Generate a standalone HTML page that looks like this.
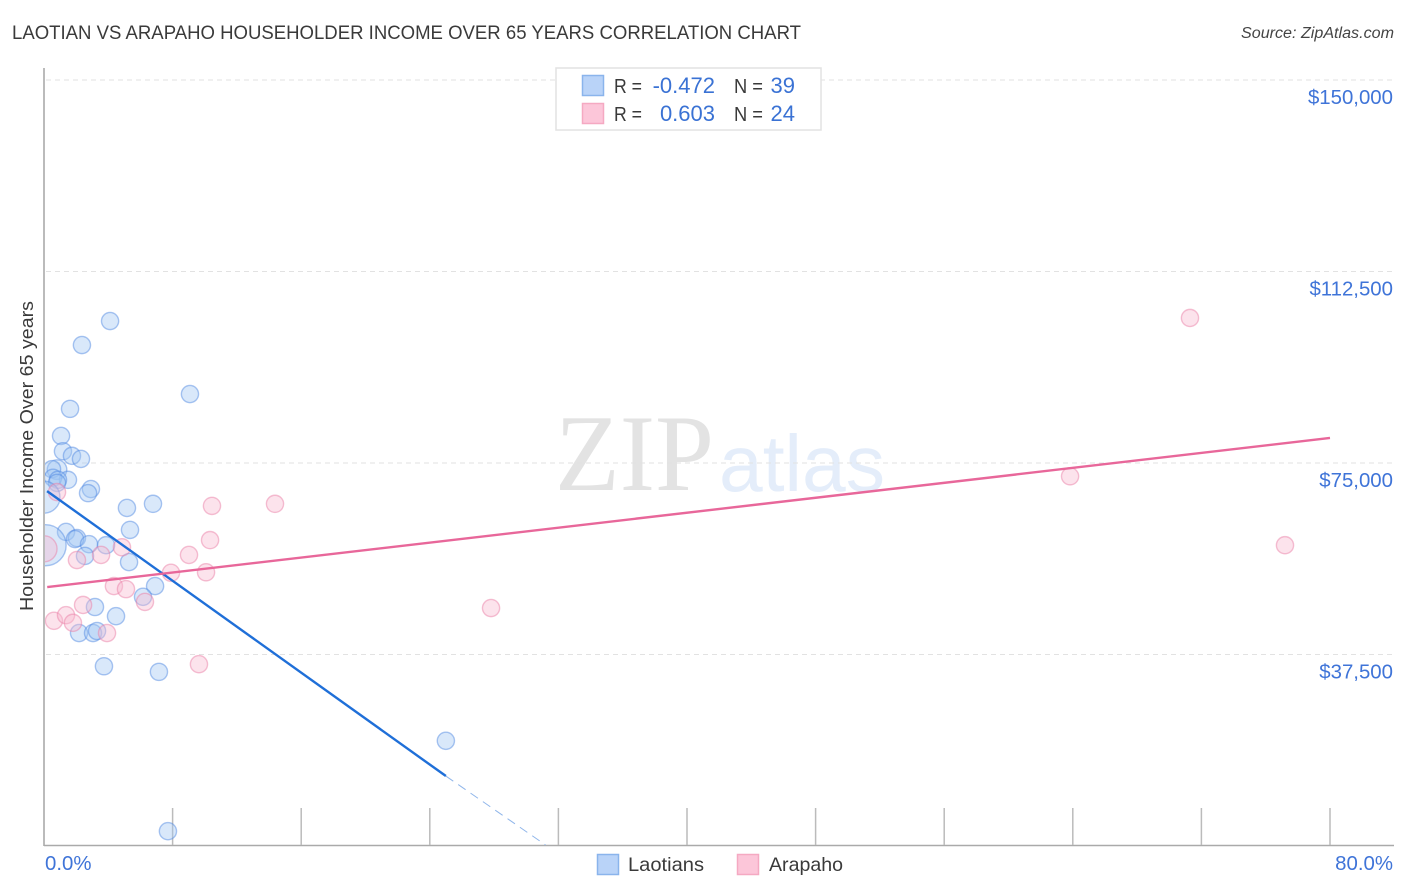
<!DOCTYPE html>
<html lang="en">
<head>
<meta charset="utf-8">
<title>Laotian vs Arapaho Householder Income Over 65 Years Correlation Chart</title>
<style>
html,body{margin:0;padding:0;background:#fff;width:1406px;height:892px;overflow:hidden}
svg{display:block;font-family:"Liberation Sans",sans-serif}
</style>
</head>
<body>
<svg id="chart" width="1406" height="892" viewBox="0 0 1406 892" xmlns="http://www.w3.org/2000/svg">
  <defs><clipPath id="plot-clip"><rect x="45" y="60" width="1349" height="785"/></clipPath></defs>
  <text x="12" y="39" font-size="19.5" fill="#3a3a3a" textLength="789" lengthAdjust="spacingAndGlyphs">LAOTIAN VS ARAPAHO HOUSEHOLDER INCOME OVER 65 YEARS CORRELATION CHART</text>
  <text x="1394" y="38" font-size="15.5" font-style="italic" fill="#444" text-anchor="end" textLength="153" lengthAdjust="spacingAndGlyphs">Source: ZipAtlas.com</text>
  <text x="555" y="490" font-family="'Liberation Serif',serif" font-size="109" fill="#e3e3e3" textLength="159" lengthAdjust="spacingAndGlyphs">ZIP</text>
  <text x="719" y="491" font-size="80" fill="#e4edfa" textLength="166" lengthAdjust="spacingAndGlyphs">atlas</text>
  <g id="grid"></g>
  <g id="axes"></g>
  <g id="marks" clip-path="url(#plot-clip)"></g>
  <g id="trends"></g>
  <text transform="translate(33,456) rotate(-90)" font-size="18.5" fill="#3a3a3a" text-anchor="middle" textLength="310" lengthAdjust="spacingAndGlyphs">Householder Income Over 65 years</text>
  <g>
    <rect x="556" y="68" width="265" height="62" fill="#fff" stroke="#e2e2e2" stroke-width="1.5"/>
    <rect x="582.5" y="75.5" width="21" height="20" fill="#b9d3f8" stroke="#8ab4ec" stroke-width="1.5"/>
    <rect x="582.5" y="103.5" width="21" height="20" fill="#fcc6d9" stroke="#f5a9c2" stroke-width="1.5"/>
    <g font-size="20" fill="#3a3a3a">
      <text x="614" y="93" textLength="28" lengthAdjust="spacingAndGlyphs">R =</text>
      <text x="614" y="121" textLength="28" lengthAdjust="spacingAndGlyphs">R =</text>
      <text x="734" y="93" textLength="29" lengthAdjust="spacingAndGlyphs">N =</text>
      <text x="734" y="121" textLength="29" lengthAdjust="spacingAndGlyphs">N =</text>
    </g>
    <g font-size="22" fill="#3a72d4">
      <text x="715" y="93" text-anchor="end">-0.472</text>
      <text x="715" y="121" text-anchor="end">0.603</text>
      <text x="795" y="93" text-anchor="end">39</text>
      <text x="795" y="121" text-anchor="end">24</text>
    </g>
  </g>
  <g>
    <rect x="597.5" y="854.5" width="21" height="20" fill="#b9d3f8" stroke="#8ab4ec" stroke-width="1.5"/>
    <text x="628" y="871" font-size="19.5" fill="#3a3a3a" textLength="76" lengthAdjust="spacingAndGlyphs">Laotians</text>
    <rect x="737.5" y="854.5" width="21" height="20" fill="#fcc6d9" stroke="#f5a9c2" stroke-width="1.5"/>
    <text x="769" y="871" font-size="19.5" fill="#3a3a3a" textLength="74" lengthAdjust="spacingAndGlyphs">Arapaho</text>
  </g>
</svg>
<script>
const yTickValues = [37500, 75000, 112500, 150000];
const yTickLabels = ["$37,500", "$75,000", "$112,500", "$150,000"];
const xTickValues = [8, 16, 24, 32, 40, 48, 56, 64, 72, 80];
const xEdgeValues = [0, 80];
const xEdgeLabels = ["0.0%", "80.0%"];

const laotianPct = [4.11,2.36,1.62,9.08,1.06,1.18,1.74,2.30,0.81,0.50,1.49,0.56,0.87,0.81,2.92,2.74,0,5.16,6.78,5.35,1.37,0.1,2.05,1.93,2.80,3.86,2.55,5.29,6.91,6.16,3.17,4.48,2.18,3.05,3.30,3.73,7.15,25.0,7.71];
const laotianIncome = [102800,98100,85600,88500,80300,77300,76400,75800,73700,73800,71700,72100,71700,71100,69900,69100,68300,66200,67000,61900,61500,58900,60300,60100,59100,58900,56800,55600,50900,48800,46800,45000,41700,41700,42100,35200,34100,20600,2900];
const laotianWeight = [1,1,1,1,1,1,1,1,1.3,1,1,1,1,1,1,1,3.46,1,1,1,1,5.7,1,1,1,1,1,1,1,1,1,1,1,1,1,1,1,1,1];

const arapahoPct = [0.62,1.37,1.80,2.43,3.92,2.05,3.55,4.85,4.35,5.10,6.28,7.90,9.02,10.08,10.33,10.45,14.37,9.64,0.81,0,27.81,63.83,71.29,77.2];
const arapahoIncome = [44100,45200,43700,47200,41700,56000,57000,58500,50900,50300,47800,53500,57000,53600,59900,66600,67000,35600,69300,58200,46600,72400,103400,58900];
const arapahoWeight = [1,1,1,1,1,1,1,1,1,1,1,1,1,1,1,1,1,1,1,2.3,1,1,1,1];

const laotianTrendPct = [0.19, 25.0];
const laotianTrendIncome = [69500, 13700];
const laotianTrendExtPct = [25.0, 31.2];
const laotianTrendExtIncome = [13700, 200];
const arapahoTrendPct = [0.2, 80];
const arapahoTrendIncome = [50700, 79900];

const SVG_NS = "http://www.w3.org/2000/svg";
function xScale(v) { return 44 + v * 16.075; }
function yScale(v) { return 846 - v * 766 / 150000; }
function rScale(w) { return 8.6 * Math.sqrt(w); }
function make(parent, tag, attrs) {
  const el = document.createElementNS(SVG_NS, tag);
  for (const k in attrs) el.setAttribute(k, attrs[k]);
  parent.appendChild(el);
  return el;
}

const grid = document.getElementById("grid");
const axes = document.getElementById("axes");
const marks = document.getElementById("marks");
const trends = document.getElementById("trends");

yTickValues.forEach(function (v, i) {
  const line = make(grid, "line", {x1: 46, x2: 1393, y1: yScale(v), y2: yScale(v), stroke: "#e2e2e2", "stroke-width": 1, "stroke-dasharray": "5 4"});
  
  
  const label = make(axes, "text", {x: 1393, y: yScale(v) + 24, "font-size": 20.4, fill: "#3f74d8", "text-anchor": "end"});
  label.textContent = yTickLabels[i];
  
  
});

const yAxisLine = make(axes, "line", {x1: 44, x2: 44, y1: 68, y2: 846, stroke: "#aaa", "stroke-width": 1.6});


const xAxisLine = make(axes, "line", {x1: 44, x2: 1394, y1: 845.5, y2: 845.5, stroke: "#aaa", "stroke-width": 1.6});



xTickValues.forEach(function (v) {
  const tick = make(axes, "line", {x1: xScale(v), x2: xScale(v), y1: 808, y2: 845, stroke: "#bbb", "stroke-width": 1.5});
  
  
});

xEdgeValues.forEach(function (v, i) {
  const label = make(axes, "text", i === 0
    ? {x: xScale(v) + 1, y: 870, "font-size": 20.4, fill: "#3f74d8"}
    : {x: 1393, y: 870, "font-size": 20.4, fill: "#3f74d8", "text-anchor": "end"});
  label.textContent = xEdgeLabels[i];
  
  
});

laotianPct.forEach(function (v, i) {
  const c = make(marks, "circle", {cx: xScale(v), cy: yScale(laotianIncome[i]), r: rScale(laotianWeight[i]), fill: "rgba(160,197,242,0.4)", stroke: "rgba(80,135,225,0.48)", "stroke-width": 1.4});
  
  
});
arapahoPct.forEach(function (v, i) {
  const c = make(marks, "circle", {cx: xScale(v), cy: yScale(arapahoIncome[i]), r: rScale(arapahoWeight[i]), fill: "rgba(248,185,208,0.4)", stroke: "rgba(235,125,165,0.48)", "stroke-width": 1.4});
  
  
});

const trendBlue = make(trends, "line", {x1: xScale(laotianTrendPct[0]), y1: yScale(laotianTrendIncome[0]), x2: xScale(laotianTrendPct[1]), y2: yScale(laotianTrendIncome[1]), stroke: "#1f6fd8", "stroke-width": 2.4});


const trendBlueExt = make(trends, "line", {x1: xScale(laotianTrendExtPct[0]), y1: yScale(laotianTrendExtIncome[0]), x2: xScale(laotianTrendExtPct[1]), y2: yScale(laotianTrendExtIncome[1]), stroke: "#8fb5ea", "stroke-width": 1, "stroke-dasharray": "9 6"});


const trendPink = make(trends, "line", {x1: xScale(arapahoTrendPct[0]), y1: yScale(arapahoTrendIncome[0]), x2: xScale(arapahoTrendPct[1]), y2: yScale(arapahoTrendIncome[1]), stroke: "#e8679a", "stroke-width": 2.4});


</script>
</body>
</html>
